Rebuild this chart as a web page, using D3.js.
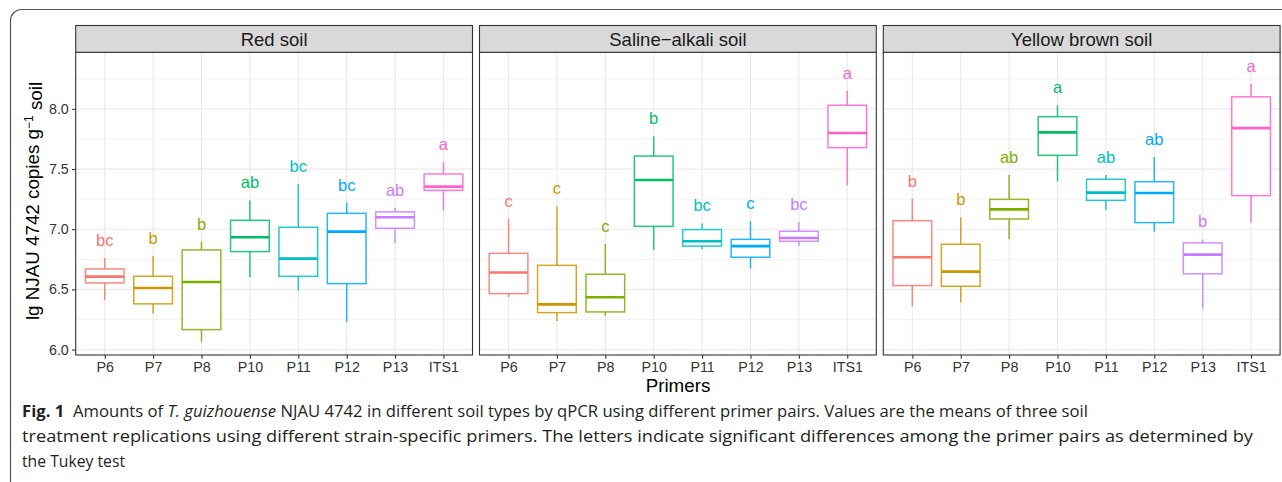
<!DOCTYPE html>
<html>
<head>
<meta charset="utf-8">
<script src="https://cdn.jsdelivr.net/npm/d3@7"></script>
<style>
  html, body { margin: 0; padding: 0; background: #fff; }
  svg { display: block; }
</style>
</head>
<body>
<svg id="chart" width="1282" height="482"></svg>
<script>
// ---------------- DATA ----------------
const primers = ["P6", "P7", "P8", "P10", "P11", "P12", "P13", "ITS1"];
const soils = ["Red soil", "Saline\u2212alkali soil", "Yellow brown soil"];
const colors = ["#F8766D", "#CD9600", "#7CAE00", "#00BE67", "#00BFC4", "#00A9FF", "#C77CFF", "#FF61CC"];
const yTicks = [6.0, 6.5, 7.0, 7.5, 8.0];
const yMinor = [6.25, 6.75, 7.25, 7.75, 8.25];

// each box: [lower whisker, Q1, median, Q3, upper whisker]
const redSoil = [
  [6.41, 6.554, 6.606, 6.67, 6.76],
  [6.30, 6.38, 6.512, 6.609, 6.78],
  [6.066, 6.166, 6.562, 6.828, 6.897],
  [6.60, 6.814, 6.933, 7.074, 7.238],
  [6.49, 6.609, 6.756, 7.016, 7.376],
  [6.227, 6.548, 6.98, 7.132, 7.221],
  [6.883, 7.008, 7.10, 7.144, 7.177],
  [7.157, 7.323, 7.354, 7.459, 7.556]
];
const salineSoil = [
  [6.437, 6.465, 6.64, 6.80, 7.088],
  [6.238, 6.307, 6.376, 6.70, 7.188],
  [6.28, 6.313, 6.435, 6.626, 6.878],
  [6.83, 7.024, 7.409, 7.608, 7.772],
  [6.833, 6.86, 6.90, 6.997, 7.047],
  [6.673, 6.767, 6.86, 6.916, 7.066],
  [6.86, 6.90, 6.927, 6.983, 7.06],
  [7.365, 7.678, 7.80, 8.03, 8.149]
];
const yellowSoil = [
  [6.36, 6.532, 6.767, 7.071, 7.254],
  [6.39, 6.526, 6.648, 6.875, 7.10],
  [6.916, 7.085, 7.165, 7.248, 7.451],
  [7.398, 7.614, 7.805, 7.935, 8.03],
  [7.157, 7.24, 7.304, 7.415, 7.451],
  [6.98, 7.055, 7.301, 7.395, 7.60],
  [6.34, 6.629, 6.789, 6.886, 6.914],
  [7.055, 7.279, 7.84, 8.10, 8.207]
];
const redLetters = ["bc", "b", "b", "ab", "bc", "bc", "ab", "a"];
const salineLetters = ["c", "c", "c", "b", "bc", "c", "bc", "a"];
const yellowLetters = ["b", "b", "ab", "a", "ab", "ab", "b", "a"];

const panelData = [redSoil, salineSoil, yellowSoil];
const panelLetters = [redLetters, salineLetters, yellowLetters];

// ---------------- LAYOUT ----------------
const FONT = "'Liberation Sans', Arial, Helvetica, sans-serif";
const svg = d3.select("#chart");
const panelX0 = [75.7, 479.5, 883.3];
const panelW = 396.8;
const stripTop = 25.5, panelTop = 52.3, panelBottom = 355;
const letterOffset = 0.15;
const boxWidth = 0.8;

// frame around figure
svg.append("rect")
  .attr("x", 10.5).attr("y", 9.5)
  .attr("width", 1400).attr("height", 600)
  .attr("rx", 11).attr("ry", 11)
  .attr("fill", "none").attr("stroke", "#555").attr("stroke-width", 1.2);

const y = d3.scaleLinear().domain([5.955, 8.47]).range([panelBottom, panelTop]);

soils.forEach((soil, pi) => {
  const x0 = panelX0[pi];
  const x = d3.scalePoint().domain(primers).range([x0, x0 + panelW]).padding(0.6);
  const step = x.step();
  const g = svg.append("g");

  g.append("rect").attr("x", x0).attr("y", panelTop)
    .attr("width", panelW).attr("height", panelBottom - panelTop).attr("fill", "#fff");

  g.selectAll(".minor").data(yMinor).join("line")
    .attr("x1", x0).attr("x2", x0 + panelW)
    .attr("y1", d => y(d)).attr("y2", d => y(d))
    .attr("stroke", "#ebebeb").attr("stroke-width", 0.6);
  g.selectAll(".major").data(yTicks).join("line")
    .attr("x1", x0).attr("x2", x0 + panelW)
    .attr("y1", d => y(d)).attr("y2", d => y(d))
    .attr("stroke", "#ebebeb").attr("stroke-width", 1.2);
  g.selectAll(".vmajor").data(primers).join("line")
    .attr("x1", d => x(d)).attr("x2", d => x(d))
    .attr("y1", panelTop).attr("y2", panelBottom)
    .attr("stroke", "#ebebeb").attr("stroke-width", 1.2);

  const boxes = panelData[pi];
  const letters = panelLetters[pi];
  primers.forEach((p, i) => {
    const [lo, q1, med, q3, hi] = boxes[i];
    const cx = x(p);
    const hw = boxWidth * step / 2;
    const col = colors[i];
    const bg = g.append("g");
    bg.append("line").attr("x1", cx).attr("x2", cx)
      .attr("y1", y(q3)).attr("y2", y(hi))
      .attr("stroke", col).attr("stroke-width", 1.5).attr("opacity", 0.85);
    bg.append("line").attr("x1", cx).attr("x2", cx)
      .attr("y1", y(q1)).attr("y2", y(lo))
      .attr("stroke", col).attr("stroke-width", 1.5).attr("opacity", 0.85);
    bg.append("rect").attr("x", cx - hw).attr("y", y(q3))
      .attr("width", 2 * hw).attr("height", y(q1) - y(q3))
      .attr("fill", "#fff").attr("stroke", col).attr("stroke-width", 1.5)
      .attr("stroke-opacity", 0.85);
    bg.append("line").attr("x1", cx - hw).attr("x2", cx + hw)
      .attr("y1", y(med)).attr("y2", y(med))
      .attr("stroke", col).attr("stroke-width", 2.6);
    bg.append("text").attr("x", cx).attr("y", y(hi + letterOffset))
      .attr("dy", "0.36em").attr("text-anchor", "middle")
      .attr("font-family", FONT).attr("font-size", 16.5)
      .attr("fill", col).text(letters[i]);
  });

  g.append("rect").attr("x", x0).attr("y", panelTop)
    .attr("width", panelW).attr("height", panelBottom - panelTop)
    .attr("fill", "none").attr("stroke", "#333").attr("stroke-width", 1.1);

  g.append("rect").attr("x", x0).attr("y", stripTop)
    .attr("width", panelW).attr("height", panelTop - stripTop)
    .attr("fill", "#d9d9d9").attr("stroke", "#333").attr("stroke-width", 1.1);
  g.append("text").attr("x", x0 + panelW / 2).attr("y", 46)
    .attr("text-anchor", "middle").attr("font-family", FONT)
    .attr("font-size", 18.5).attr("fill", "#1a1a1a").text(soil);

  const xAxis = d3.axisBottom(x).tickSize(3.7).tickPadding(3);
  const xa = g.append("g").attr("transform", `translate(0,${panelBottom})`).call(xAxis);
  xa.select(".domain").remove();
  xa.selectAll(".tick line").attr("stroke", "#333").attr("stroke-width", 1.1);
  xa.selectAll(".tick text").attr("font-family", FONT).attr("font-size", 14.3)
    .attr("fill", "#333").attr("dy", null).attr("y", 17.3);

  if (pi === 0) {
    const yAxis = d3.axisLeft(y).tickValues(yTicks).tickFormat(d3.format(".1f"))
      .tickSize(3.7).tickPadding(3.2);
    const ya = g.append("g").attr("transform", `translate(${x0},0)`).call(yAxis);
    ya.select(".domain").remove();
    ya.selectAll(".tick line").attr("stroke", "#333").attr("stroke-width", 1.1);
    ya.selectAll(".tick text").attr("font-family", FONT).attr("font-size", 14.3)
      .attr("fill", "#333");
  }
});

svg.append("text").attr("x", 678).attr("y", 392)
  .attr("text-anchor", "middle").attr("font-family", FONT)
  .attr("font-size", 18.8).attr("fill", "#000").text("Primers");

const yt = svg.append("text")
  .attr("transform", "translate(38.5,201) rotate(-90)")
  .attr("text-anchor", "middle").attr("font-family", FONT)
  .attr("font-size", 18.8).attr("fill", "#000");
yt.append("tspan").text("lg NJAU 4742 copies g");
yt.append("tspan").attr("dy", "-0.45em").attr("font-size", 12).text("\u22121");
yt.append("tspan").attr("dy", "0.45em").text(" soil");

const CAP = "'Open Sans', 'Noto Sans', sans-serif";
const capLines = [
  { y: 416.5, len: 1066, parts: [
    { t: "Fig. 1", w: "bold" },
    { t: "\u00a0\u00a0Amounts of " },
    { t: "T. guizhouense", s: "italic" },
    { t: " NJAU 4742 in different soil types by qPCR using different primer pairs. Values are the means of three soil" }
  ]},
  { y: 442, len: 1231, parts: [
    { t: "treatment replications using different strain-specific primers. The letters indicate significant differences among the primer pairs as determined by" }
  ]},
  { y: 466.5, len: 103, parts: [ { t: "the Tukey test" } ] }
];
capLines.forEach(line => {
  const t = svg.append("text").attr("x", 22).attr("y", line.y)
    .attr("font-family", CAP).attr("font-size", 15.5).attr("fill", "#231f20")
    .attr("textLength", line.len).attr("lengthAdjust", "spacingAndGlyphs");
  line.parts.forEach(p => {
    const ts = t.append("tspan").text(p.t);
    if (p.w) ts.attr("font-weight", p.w);
    if (p.s) ts.attr("font-style", p.s);
  });
});
</script>
</body>
</html>
